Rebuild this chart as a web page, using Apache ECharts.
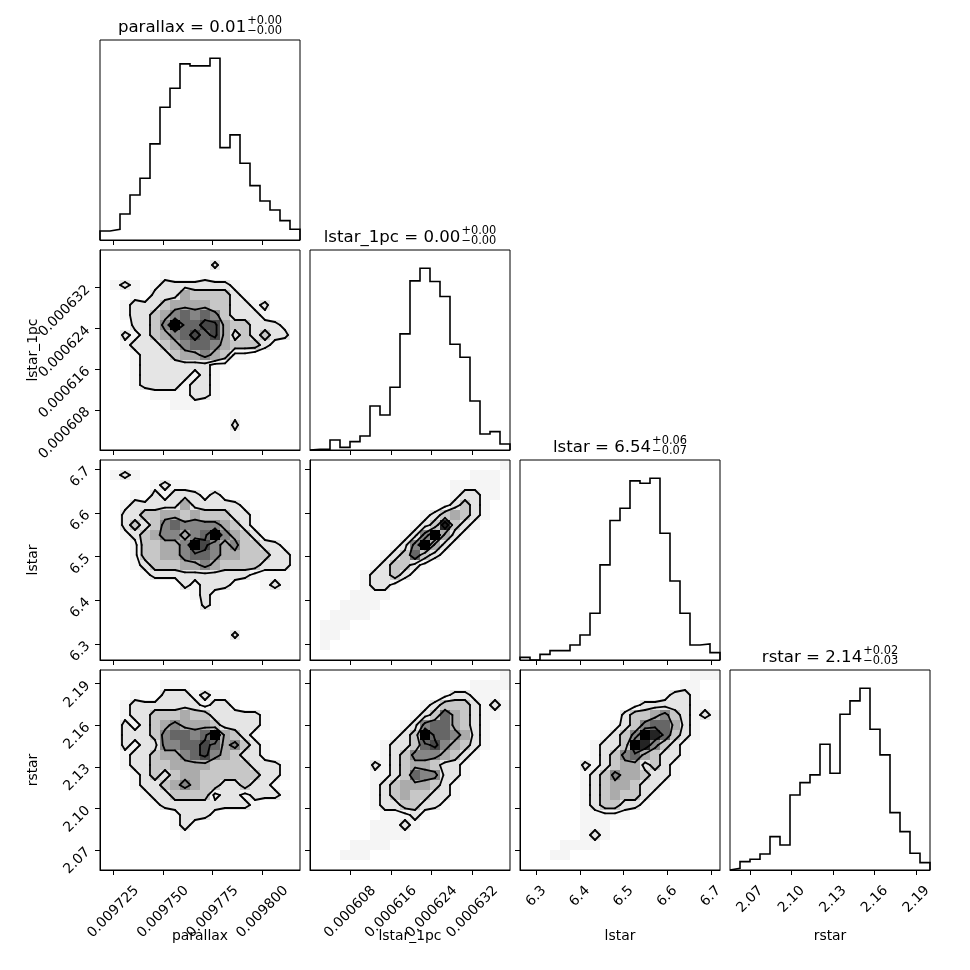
<!DOCTYPE html>
<html><head><meta charset="utf-8">
<script src="https://cdn.jsdelivr.net/npm/echarts@6.0.0/dist/echarts.min.js"></script>
<style>html,body{margin:0;padding:0;background:#fff}#c{width:970px;height:970px}</style>
</head><body><div id="c"></div>
<script>
// ---------------- data ----------------
const paramNames = ['parallax', 'lstar_1pc', 'lstar', 'rstar'];
const paramMin = [0.0097183, 0.0006001, 6.263, 2.0555];
const paramMax = [0.0098189, 0.0006394, 6.721, 2.1999];

const parallaxTicks = [0.009725, 0.00975, 0.009775, 0.0098];
const parallaxTickLabels = ['0.009725', '0.009750', '0.009775', '0.009800'];
const lstar1pcTicks = [0.000608, 0.000616, 0.000624, 0.000632];
const lstar1pcTickLabels = ['0.000608', '0.000616', '0.000624', '0.000632'];
const lstarTicks = [6.3, 6.4, 6.5, 6.6, 6.7];
const lstarTickLabels = ['6.3', '6.4', '6.5', '6.6', '6.7'];
const rstarTicks = [2.07, 2.10, 2.13, 2.16, 2.19];
const rstarTickLabels = ['2.07', '2.10', '2.13', '2.16', '2.19'];

const titleMain = ['parallax = 0.01', 'lstar_1pc = 0.00', 'lstar = 6.54', 'rstar = 2.14'];
const titleSup = ['+0.00', '+0.00', '+0.06', '+0.02'];
const titleSub = ['\u22120.00', '\u22120.00', '\u22120.07', '\u22120.03'];

// 1D histograms (20 bins, relative heights)
const histParallax = [27, 32, 78, 135, 185, 288, 398, 455, 528, 522, 522, 545, 277, 315, 230, 163, 117, 90, 58, 32];
const histLstar1pc = [2, 2, 30, 8, 25, 42, 132, 105, 188, 348, 507, 545, 505, 460, 317, 278, 147, 48, 55, 18];
const histLstar = [8, 0, 17, 28, 28, 45, 75, 140, 285, 418, 455, 537, 530, 545, 380, 237, 140, 45, 48, 22];
const histRstar = [5, 25, 32, 48, 100, 75, 225, 262, 285, 377, 290, 467, 507, 545, 422, 345, 172, 115, 50, 22];

// 2D histograms: 20x20 shade levels (0-9), rows top -> bottom
const shadeLevels = [0, 0.04, 0.10, 0.22, 0.33, 0.48, 0.60, 0.72, 0.86, 1.0];
const contourLevels = [0.07, 0.16, 0.40, 0.66];

const dens_lstar1pc_parallax = [
"00000000000000000000","00000000000200000000","00000010001000000000","01210122222221000000",
"00010222433332100000","00122234444332212000","00122345656532221000","00022359667743322210",
"00212345676742323220","00122234566543332100","00012223445431100000","00012222222110000000",
"00012222212100000000","00012222122100000000","00000111122100000000","00000001110000000000",
"00000000000001000000","00000000000002000000","00000000000001000000","00000000000000000000"];
const dens_lstar_parallax = [
"00000000000000000000","01210000000000000000","00000121100000000000","00010212221210000000",
"00122222422222100000","00223344343332210000","00232356555543210000","00123455456954321000",
"00013344597545332210","00013344566544333221","00012333445433332221","00001222222222211110",
"00000000212221001210","00000000012100000000","00000000002100000000","00000000000000000000",
"00000000000000000000","00000000000002000000","00000000000000000000","00000000000000000000"];
const dens_lstar_lstar1pc = [
"00000000000000000001","00000000000000001110","00000000000000111110","00000000000000122110",
"00000000000001232100","00000000000123432100","00000000001238321000","00000000012594210000",
"00000000125942100000","00000001236321000000","00000012332100000000","00000122321000000000",
"00000122100000000000","00001111000000000000","00011110000000000000","00111100000000000000",
"01110000000000000000","01100000000000000000","01000000000000000000","00000000000000000000"];
const dens_rstar_parallax = [
"00000000000000000000","00000011100000000000","00010022212110000000","00122222221221000000",
"00122333433222221000","00212345444322221000","00222356656943210000","00212255667645321000",
"00122344567543221000","00122334444333322210","00012323443333332210","00012234543322322100",
"00001223333122122210","00000122222222210000","00000001222100000000","00000001210000000000",
"00000000100000000000","00000000000000000000","00000000000000000000","00000000000000000000"];
const dens_rstar_lstar1pc = [
"00000000000000000001","00000000000000001111","00000000000001221110","00000000000123332121",
"00000000001236432110","00000000012566432100","00000000123966542100","00000001223675432100",
"00000001235554321000","00000021234432210000","00000011236552210000","00000012344432100000",
"00000012343322100000","00000012233221000000","00000001112100000000","00000011121000000000",
"00000011110000000000","00001111000000000000","00011100000000000000","00000000000000000000"];
const dens_rstar_lstar = [
"00000000000000000111","00000000000000001100","00000000000000122100","00000000000122222110",
"00000000002334532121","00000000012356642100","00000000123598632100","00000001223985321000",
"00000001235643221000","00000021234423210000","00000012354432210000","00000012344322100000",
"00000012343321000000","00000012332210000000","00000011111000000000","00000011100000000000",
"00000012100000000000","00001111000000000000","00011000000000000000","00000000000000000000"];

// ---------------- assembly ----------------
const tickValues = [parallaxTicks, lstar1pcTicks, lstarTicks, rstarTicks];
const tickLabels = [parallaxTickLabels, lstar1pcTickLabels, lstarTickLabels, rstarTickLabels];
const hists = [histParallax, histLstar1pc, histLstar, histRstar];
const dens2d = {
  '1,0': dens_lstar1pc_parallax, '2,0': dens_lstar_parallax, '2,1': dens_lstar_lstar1pc,
  '3,0': dens_rstar_parallax, '3,1': dens_rstar_lstar1pc, '3,2': dens_rstar_lstar
};

const FONT = '"DejaVu Sans"';
const TICK_FS = 13.9, TITLE_FS = 16.6, SCRIPT_FS = 11.4;
const P0X = 100, P0Y = 40, PS = 200, PG = 10, NB = 20;

const mctx = document.createElement('canvas').getContext('2d');
function measure(t, fs) { mctx.font = fs + 'px ' + FONT; return mctx.measureText(t).width; }

function labelFor(k) {
  return function (v) {
    let best = 0, bd = Infinity;
    tickValues[k].forEach((t, i) => { const d = Math.abs(t - v); if (d < bd) { bd = d; best = i; } });
    return tickLabels[k][best];
  };
}
const xLabelMargin = tickLabels.map(ls => {
  const w = Math.max(...ls.map(l => measure(l, TICK_FS)));
  return 15 + (w + 10) / (2 * Math.SQRT2);
});

function edges(k) {
  const e = [], d = (paramMax[k] - paramMin[k]) / NB;
  for (let i = 0; i <= NB; i++) e.push(paramMin[k] + i * d);
  return e;
}

function marching(P, X, Y, lvl) {
  const segs = [];
  const nx = X.length, ny = Y.length;
  for (let i = 0; i < nx - 1; i++) {
    for (let j = 0; j < ny - 1; j++) {
      const a = P[i][j], b = P[i + 1][j], c = P[i + 1][j + 1], d = P[i][j + 1];
      const code = (a > lvl ? 1 : 0) | (b > lvl ? 2 : 0) | (c > lvl ? 4 : 0) | (d > lvl ? 8 : 0);
      if (code === 0 || code === 15) continue;
      const x0 = X[i], x1 = X[i + 1], y0 = Y[j], y1 = Y[j + 1];
      const E = {
        B: () => [x0 + (lvl - a) / (b - a) * (x1 - x0), y0],
        R: () => [x1, y0 + (lvl - b) / (c - b) * (y1 - y0)],
        T: () => [x0 + (lvl - d) / (c - d) * (x1 - x0), y1],
        L: () => [x0, y0 + (lvl - a) / (d - a) * (y1 - y0)]
      };
      const ctr = (a + b + c + d) / 4;
      let pairs;
      switch (code) {
        case 1: pairs = [['L', 'B']]; break;
        case 2: pairs = [['B', 'R']]; break;
        case 3: pairs = [['L', 'R']]; break;
        case 4: pairs = [['R', 'T']]; break;
        case 5: pairs = ctr > lvl ? [['B', 'R'], ['L', 'T']] : [['L', 'B'], ['R', 'T']]; break;
        case 6: pairs = [['B', 'T']]; break;
        case 7: pairs = [['L', 'T']]; break;
        case 8: pairs = [['L', 'T']]; break;
        case 9: pairs = [['B', 'T']]; break;
        case 10: pairs = ctr > lvl ? [['L', 'B'], ['R', 'T']] : [['B', 'R'], ['L', 'T']]; break;
        case 11: pairs = [['R', 'T']]; break;
        case 12: pairs = [['L', 'R']]; break;
        case 13: pairs = [['B', 'R']]; break;
        case 14: pairs = [['L', 'B']]; break;
      }
      pairs.forEach(p => { const s = E[p[0]](), t = E[p[1]](); segs.push([s[0], s[1], t[0], t[1]]); });
    }
  }
  return segs;
}

function build2d(rows, xi, yi) {
  const H = [];
  for (let i = 0; i < NB; i++) {
    H.push([]);
    for (let j = 0; j < NB; j++) {
      const ch = (rows[NB - 1 - j] || '')[i];
      const dgt = ch ? parseInt(ch, 10) : 0;
      H[i].push(shadeLevels[isNaN(dgt) ? 0 : dgt]);
    }
  }
  const ex = edges(xi), ey = edges(yi);
  const cells = [];
  for (let i = 0; i < NB; i++) for (let j = 0; j < NB; j++) {
    if (H[i][j] > 0) cells.push([ex[i], ey[j], ex[i + 1], ey[j + 1], H[i][j]]);
  }
  // padded grid (as corner.py does)
  let hmin = Infinity; H.forEach(c => c.forEach(v => { if (v < hmin) hmin = v; }));
  const N = NB + 4, P = [];
  for (let i = 0; i < N; i++) { P.push(new Array(N).fill(hmin)); }
  for (let i = 0; i < NB; i++) for (let j = 0; j < NB; j++) P[i + 2][j + 2] = H[i][j];
  for (let j = 0; j < NB; j++) { P[1][j + 2] = H[0][j]; P[N - 2][j + 2] = H[NB - 1][j]; }
  for (let i = 0; i < NB; i++) { P[i + 2][1] = H[i][0]; P[i + 2][N - 2] = H[i][NB - 1]; }
  P[1][1] = H[0][0]; P[1][N - 2] = H[0][NB - 1]; P[N - 2][1] = H[NB - 1][0]; P[N - 2][N - 2] = H[NB - 1][NB - 1];
  const dx = (paramMax[xi] - paramMin[xi]) / NB, dy = (paramMax[yi] - paramMin[yi]) / NB;
  const X = [], Y = [];
  for (let k = 0; k < N; k++) { X.push(paramMin[xi] + (k - 1.5) * dx); Y.push(paramMin[yi] + (k - 1.5) * dy); }
  let segs = [];
  contourLevels.forEach(l => { segs = segs.concat(marching(P, X, Y, l)); });
  return { cells, segs };
}

const grids = [], xAxes = [], yAxes = [], series = [], graphics = [];
let g = 0;
for (let r = 0; r < 4; r++) {
  for (let c = 0; c <= r; c++) {
    grids.push({
      left: P0X + c * (PS + PG), top: P0Y + r * (PS + PG), width: PS, height: PS,
      containLabel: false, outerBoundsMode: 'none',
      show: true, borderColor: '#000', borderWidth: 1, backgroundColor: 'transparent'
    });
    xAxes.push({
      gridIndex: g, type: 'value', min: paramMin[c], max: paramMax[c],
      axisLine: { show: true, onZero: false, lineStyle: { color: '#000', width: 1 } },
      axisTick: { show: true, customValues: tickValues[c], length: 5, inside: false, lineStyle: { color: '#000', width: 1 } },
      axisLabel: {
        show: r === 3, customValues: tickValues[c], rotate: 45, align: 'center', verticalAlign: 'middle',
        margin: xLabelMargin[c], fontFamily: 'DejaVu Sans', fontSize: TICK_FS, color: '#000', formatter: labelFor(c)
      },
      splitLine: { show: false }
    });
    if (r === c) {
      const h = hists[c];
      yAxes.push({
        gridIndex: g, type: 'value', min: 0, max: 1.1 * Math.max(...h),
        axisLine: { show: false }, axisTick: { show: false }, axisLabel: { show: false }, splitLine: { show: false }
      });
      const e = edges(c);
      const pts = [[e[0], 0]];
      for (let i = 0; i < NB; i++) { pts.push([e[i], h[i]]); pts.push([e[i + 1], h[i]]); }
      pts.push([e[NB], 0]);
      series.push({
        type: 'line', xAxisIndex: g, yAxisIndex: g, data: pts, showSymbol: false, symbol: 'none',
        lineStyle: { color: '#000', width: 1.6, join: 'miter' }, clip: true, silent: true
      });
    } else {
      yAxes.push({
        gridIndex: g, type: 'value', min: paramMin[r], max: paramMax[r],
        axisLine: { show: true, onZero: false, lineStyle: { color: '#000', width: 1 } },
        axisTick: { show: true, customValues: tickValues[r], length: 5, inside: false, lineStyle: { color: '#000', width: 1 } },
        axisLabel: {
          show: c === 0, customValues: tickValues[r], rotate: 45, margin: 12,
          fontFamily: 'DejaVu Sans', fontSize: TICK_FS, color: '#000', formatter: labelFor(r)
        },
        splitLine: { show: false }
      });
      const pd = build2d(dens2d[r + ',' + c], c, r);
      series.push({
        type: 'custom', xAxisIndex: g, yAxisIndex: g, data: pd.cells, clip: true, silent: true,
        encode: { x: [0, 2], y: [1, 3] },
        renderItem: function (params, api) {
          const p0 = api.coord([api.value(0), api.value(3)]);
          const p1 = api.coord([api.value(2), api.value(1)]);
          const x = Math.round(p0[0]), y = Math.round(p0[1]);
          return {
            type: 'rect', shape: { x: x, y: y, width: Math.round(p1[0]) - x, height: Math.round(p1[1]) - y },
            style: { fill: 'rgba(0,0,0,' + api.value(4) + ')' }
          };
        }
      });
      series.push({
        type: 'custom', xAxisIndex: g, yAxisIndex: g, data: pd.segs, clip: true, silent: true,
        encode: { x: [0, 2], y: [1, 3] },
        renderItem: function (params, api) {
          const a = api.coord([api.value(0), api.value(1)]);
          const b = api.coord([api.value(2), api.value(3)]);
          return {
            type: 'line', shape: { x1: a[0], y1: a[1], x2: b[0], y2: b[1] },
            style: { stroke: '#000', lineWidth: 1.8, lineCap: 'round' }
          };
        }
      });
    }
    g++;
  }
}

// titles above diagonal panels
for (let k = 0; k < 4; k++) {
  const wm = measure(titleMain[k], TITLE_FS);
  const ws = Math.max(measure(titleSup[k], SCRIPT_FS), measure(titleSub[k], SCRIPT_FS));
  const cx = P0X + k * (PS + PG) + PS / 2;
  const left = cx - (wm + 1 + ws) / 2;
  const top = P0Y + k * (PS + PG);
  const mk = (txt, x, y, fs) => ({
    type: 'text', x: x, y: y, silent: true,
    style: { text: txt, font: fs + 'px ' + FONT, fill: '#000', textAlign: 'left', align: 'left', textVerticalAlign: 'middle', verticalAlign: 'middle' }
  });
  graphics.push(mk(titleMain[k], left, top - 12.7, TITLE_FS));
  graphics.push(mk(titleSup[k], left + wm + 1, top - 18.5, SCRIPT_FS));
  graphics.push(mk(titleSub[k], left + wm + 1, top - 9.3, SCRIPT_FS));
}
// axis names
for (let k = 0; k < 4; k++) {
  graphics.push({
    type: 'text', x: P0X + k * (PS + PG) + PS / 2, y: 936, silent: true,
    style: { text: paramNames[k], font: TICK_FS + 'px ' + FONT, fill: '#000', textAlign: 'center', align: 'center', textVerticalAlign: 'middle', verticalAlign: 'middle' }
  });
}
for (let k = 1; k < 4; k++) {
  graphics.push({
    type: 'text', x: 33, y: P0Y + k * (PS + PG) + PS / 2, rotation: Math.PI / 2, silent: true,
    style: { text: paramNames[k], font: TICK_FS + 'px ' + FONT, fill: '#000', textAlign: 'center', align: 'center', textVerticalAlign: 'middle', verticalAlign: 'middle' }
  });
}

const chart = echarts.init(document.getElementById('c'), null, { renderer: 'canvas' });
chart.setOption({
  animation: false,
  backgroundColor: '#fff',
  grid: grids, xAxis: xAxes, yAxis: yAxes, series: series,
  graphic: { elements: graphics }
});
</script>
</body></html>
